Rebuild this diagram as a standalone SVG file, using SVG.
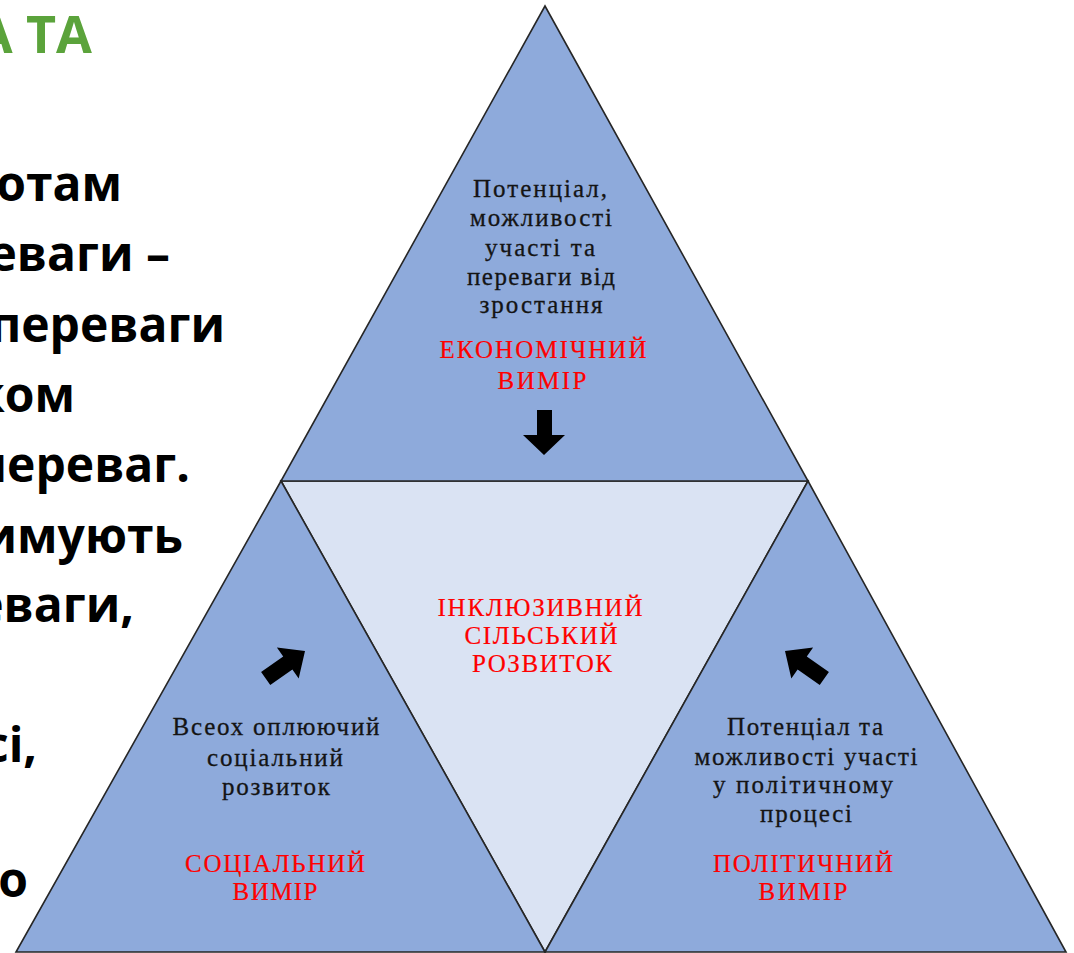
<svg xmlns="http://www.w3.org/2000/svg" width="1074" height="953" viewBox="0 0 1074 953">
<style>
.bg{fill:#ffffff}
.tri{fill:#8eaadb;stroke:#262626;stroke-width:1.6;stroke-linejoin:miter}
.mid{fill:#dae3f3;stroke:#262626;stroke-width:1.6;stroke-linejoin:miter}
.body{font-family:"Liberation Serif","DejaVu Serif",serif;font-size:25px;fill:#141414;stroke:#141414;stroke-width:0.3;text-anchor:middle}
.dim{font-family:"Liberation Serif","DejaVu Serif",serif;font-size:25px;fill:#ff0000;stroke:#ff0000;stroke-width:0.2;text-anchor:middle}
.side{font-family:"Open Sans","Liberation Sans",sans-serif;font-weight:700;font-size:48px;fill:#000000;text-anchor:end}
.title{font-family:"Open Sans","Liberation Sans",sans-serif;font-weight:700;font-size:52px;fill:#5ba33b;text-anchor:end}
.arrow{fill:#000000}
</style>
<rect class="bg" x="0" y="0" width="1074" height="953"/>

<g id="side-text">
  <text class="title" x="92" y="53">А ТА</text>
  <text class="side" x="122" y="201">отам</text>
  <text class="side" x="170" y="271">еваги –</text>
  <text class="side" x="225" y="342">переваги</text>
  <text class="side" x="75" y="412">ком</text>
  <text class="side" x="190" y="482">переваг.</text>
  <text class="side" x="183" y="553">имують</text>
  <text class="side" x="134" y="622">еваги,</text>
  <text class="side" x="37" y="762">сі,</text>
  <text class="side" x="28" y="897">о</text>
</g>

<g id="center-node">
  <polygon class="mid" points="281,481 808,481 545,952"/>
  <text class="dim" x="540" y="616" textLength="205" lengthAdjust="spacing">ІНКЛЮЗИВНИЙ</text>
  <text class="dim" x="541" y="644" textLength="153" lengthAdjust="spacing">СІЛЬСЬКИЙ</text>
  <text class="dim" x="542" y="672" textLength="140" lengthAdjust="spacing">РОЗВИТОК</text>
</g>

<g id="economic-node">
  <polygon class="tri" points="545,6 281,481 808,481"/>
  <text class="body" x="540" y="197" textLength="134" lengthAdjust="spacing">Потенціал,</text>
  <text class="body" x="541" y="226" textLength="142" lengthAdjust="spacing">можливості</text>
  <text class="body" x="540" y="256" textLength="110" lengthAdjust="spacing">участі та</text>
  <text class="body" x="541" y="285" textLength="148" lengthAdjust="spacing">переваги від</text>
  <text class="body" x="541" y="313" textLength="123" lengthAdjust="spacing">зростання</text>
  <text class="dim" x="543" y="358" textLength="207" lengthAdjust="spacing">ЕКОНОМІЧНИЙ</text>
  <text class="dim" x="542" y="389" textLength="89" lengthAdjust="spacing">ВИМІР</text>
</g>

<g id="social-node">
  <polygon class="tri" points="281,481 545,952 16,952"/>
  <text class="body" x="276" y="735" textLength="207" lengthAdjust="spacing">Всеох оплюючий</text>
  <text class="body" x="275" y="766" textLength="136" lengthAdjust="spacing">соціальний</text>
  <text class="body" x="276" y="795" textLength="108" lengthAdjust="spacing">розвиток</text>
  <text class="dim" x="275" y="872" textLength="180" lengthAdjust="spacing">СОЦІАЛЬНИЙ</text>
  <text class="dim" x="275" y="900" textLength="85" lengthAdjust="spacing">ВИМІР</text>
</g>

<g id="political-node">
  <polygon class="tri" points="808,481 1066,952 545,952"/>
  <text class="body" x="805" y="735" textLength="156" lengthAdjust="spacing">Потенціал та</text>
  <text class="body" x="806" y="765" textLength="223" lengthAdjust="spacing">можливості участі</text>
  <text class="body" x="803" y="793" textLength="180" lengthAdjust="spacing">у політичному</text>
  <text class="body" x="806" y="822" textLength="92" lengthAdjust="spacing">процесі</text>
  <text class="dim" x="803" y="872" textLength="180" lengthAdjust="spacing">ПОЛІТИЧНИЙ</text>
  <text class="dim" x="803" y="900" textLength="89" lengthAdjust="spacing">ВИМІР</text>
</g>

<g id="connectors">
  <polygon class="arrow" points="537,410 552,410 552,435 565,435 544,455 523,435 537,435"/>
  <polygon class="arrow" transform="translate(305,651) rotate(-35)" points="0,0 -21,-19 -21,-8 -48,-8 -48,8 -21,8 -21,19"/>
  <polygon class="arrow" transform="translate(785,651) rotate(-145)" points="0,0 -21,-19 -21,-8 -48,-8 -48,8 -21,8 -21,19"/>
</g>
</svg>
